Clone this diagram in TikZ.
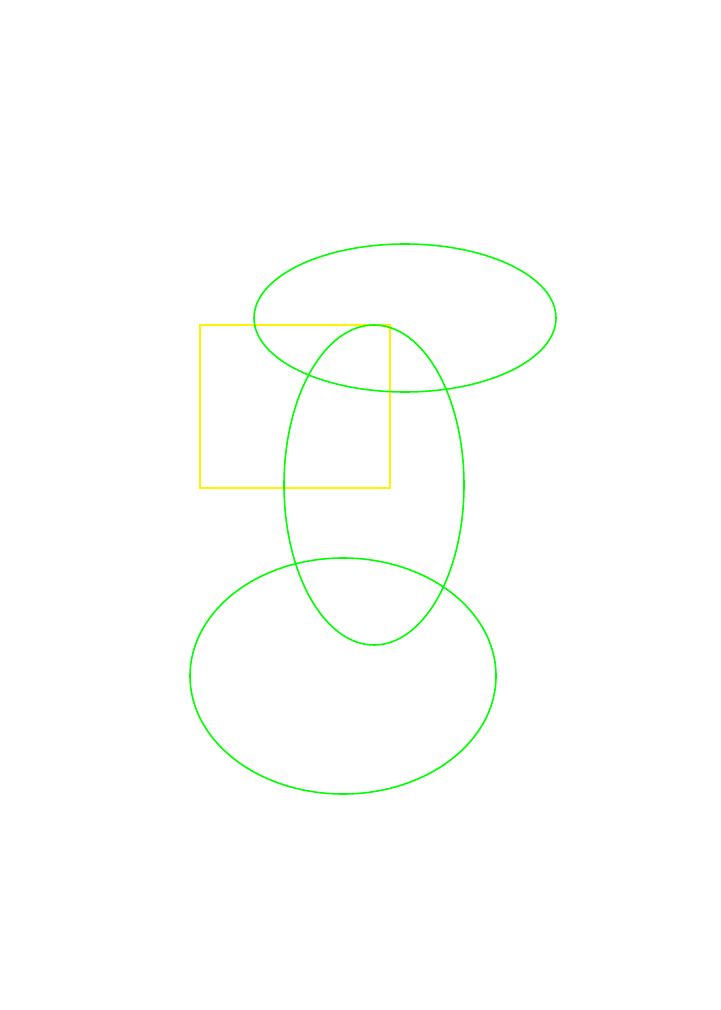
\documentclass[tikz,border=0pt]{standalone}
\usepackage{tikz}

\begin{document}
\begin{tikzpicture}[x=0.02cm,y=-0.02cm]
\useasboundingbox (0,0) rectangle (720,1010);
\draw[line width=0.9pt,yellow] (200,325) rectangle (390,488);
\foreach \cx/\cy/\rx/\ry in {405/318/151/74,374/485/90/160,343/676/153/118}{
  \draw[line width=0.9pt,green] (\cx,\cy) ellipse [x radius=\rx, y radius=\ry];
}
\end{tikzpicture}
\end{document}
